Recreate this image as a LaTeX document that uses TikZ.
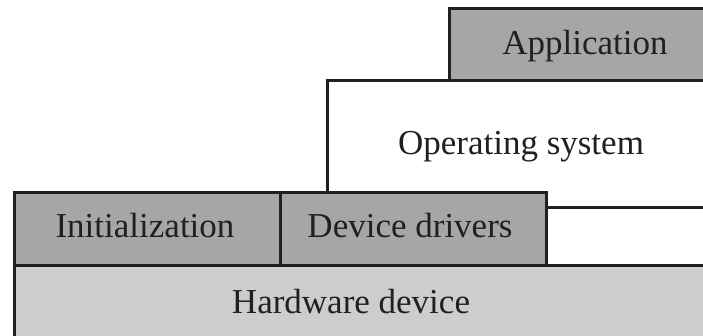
\documentclass[tikz,border=0pt]{standalone}
\usepackage{fontspec}
\setmainfont{Liberation Serif}
\definecolor{darkbox}{HTML}{A6A6A6}
\definecolor{lightbox}{HTML}{CDCDCD}
\definecolor{edge}{HTML}{231F20}
\begin{document}
\begin{tikzpicture}[x=1pt,y=1pt,
  box/.style={draw=edge,line width=3pt},
  lbl/.style={anchor=base,inner sep=0pt,text=edge,font=\fontsize{35}{42}\selectfont}]
\clip (0,0) rectangle (703,335);
\fill[white] (0,0) rectangle (703,335);
% Hardware device
\draw[box,fill=lightbox] (14,-20) rectangle (730,70);
% Operating system (behind device drivers)
\draw[box,fill=white] (327,128) rectangle (730,254);
% Application
\draw[box,fill=darkbox] (449,254) rectangle (730,326);
% Initialization and Device drivers
\draw[box,fill=darkbox] (14,70) rectangle (280,143);
\draw[box,fill=darkbox] (280,70) rectangle (546,143);
% labels
\node[lbl] (hw) at (351,22) {Hardware device};
\node[lbl] (init) at (145,98) {Initialization};
\node[lbl] (dd) at (410,98) {Device drivers};
\node[lbl] (os) at (521,180) {Operating system};
\node[lbl] (app) at (585,280) {Application};
\end{tikzpicture}
\end{document}
